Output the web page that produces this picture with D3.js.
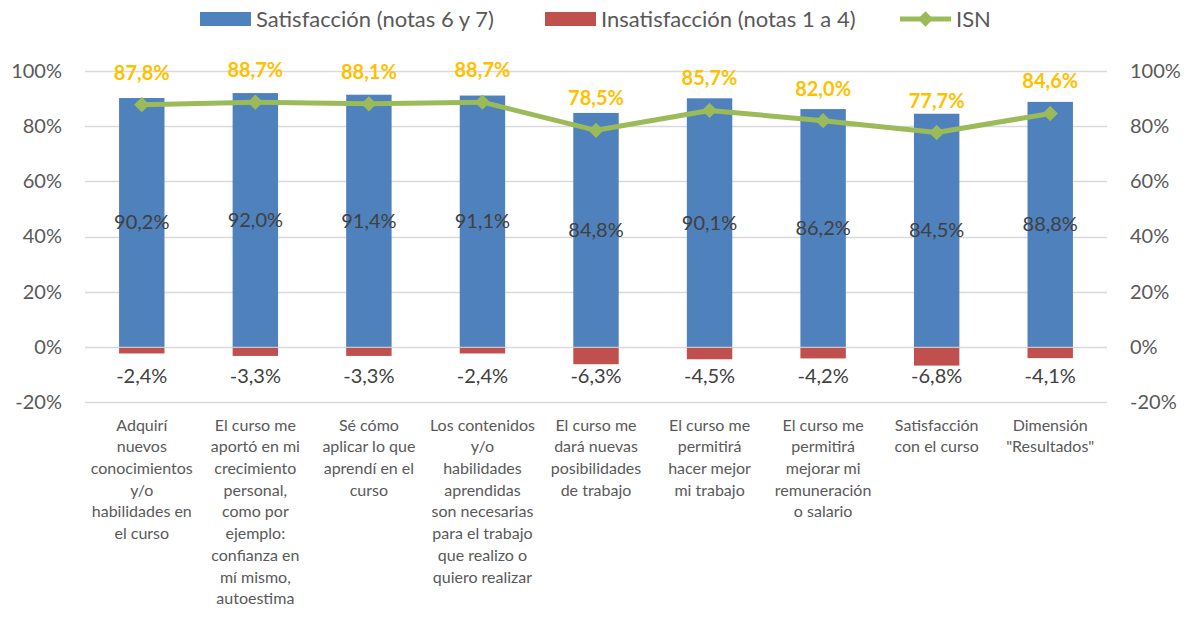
<!DOCTYPE html>
<html>
<head>
<meta charset="utf-8">
<script src="https://cdnjs.cloudflare.com/ajax/libs/d3/7.8.5/d3.min.js"></script>
<style>
	body{margin:0;background:#fff;}
	svg{font-family:Lato, "Open Sans", sans-serif;}
	.tick-label{fill:#595959;font-size:20px;}
	.cat-label{fill:#595959;font-size:16px;}
	.val-label{fill:#404040;font-size:20px;}
	.isn-label{fill:#FFC000;font-size:20px;font-weight:bold;}
	.legend-text{fill:#595959;font-size:22px;}
</style>
</head>
<body>
<svg id="chart" width="1193" height="618"></svg>
<script>
var categories = [
	'Adquirí\nnuevos\nconocimientos\ny/o\nhabilidades en\nel curso',
	'El curso me\naportó en mi\ncrecimiento\npersonal,\ncomo por\nejemplo:\nconfianza en\nmí mismo,\nautoestima',
	'Sé cómo\naplicar lo que\naprendí en el\ncurso',
	'Los contenidos\ny/o\nhabilidades\naprendidas\nson necesarias\npara el trabajo\nque realizo o\nquiero realizar',
	'El curso me\ndará nuevas\nposibilidades\nde trabajo',
	'El curso me\npermitirá\nhacer mejor\nmi trabajo',
	'El curso me\npermitirá\nmejorar mi\nremuneración\no salario',
	'Satisfacción\ncon el curso',
	'Dimensión\n"Resultados"'
];
var satisfaccion = [90.2, 92.0, 91.4, 91.1, 84.8, 90.1, 86.2, 84.5, 88.8];
var insatisfaccion = [-2.4, -3.3, -3.3, -2.4, -6.3, -4.5, -4.2, -6.8, -4.1];
var isn = [87.8, 88.7, 88.1, 88.7, 78.5, 85.7, 82.0, 77.7, 84.6];
var yTicks = [-20, 0, 20, 40, 60, 80, 100];

var margin = {left : 85, right : 86, top : 71, bottom : 216};

var svg = d3.select('#chart'),
	svgWidth = 1193,
	svgHeight = 618,
	width = svgWidth - margin.left - margin.right,
	height = svgHeight - margin.top - margin.bottom;

var fmt = function(v){ return v.toFixed(1).replace('.', ',') + '%'; };

var x = d3.scaleBand()
	.domain(d3.range(categories.length))
	.range([0, width])
	.paddingInner(0.6)
	.paddingOuter(0.3);

var y = d3.scaleLinear()
	.domain([-20, 100])
	.range([height, 0]);

var mainG = svg.append('g')
	.attr('transform', `translate(${margin.left},${margin.top})`);

//gridlines
mainG.append('g')
	.selectAll('line')
	.data(yTicks)
	.enter()
	.append('line')
	.attr('x1', 0)
	.attr('x2', width)
	.attr('y1', (d)=>Math.round(y(d)) + 0.5)
	.attr('y2', (d)=>Math.round(y(d)) + 0.5)
	.attr('stroke', '#D9D9D9')
	.attr('stroke-width', 1.5);

//axis labels
var yAxisL = d3.axisLeft(y).tickValues(yTicks).tickFormat((d)=>d + '%').tickSize(0).tickPadding(23);
var yAxisR = d3.axisRight(y).tickValues(yTicks).tickFormat((d)=>d + '%').tickSize(0).tickPadding(23);

var gl = mainG.append('g').call(yAxisL);
var gr = mainG.append('g').attr('transform', `translate(${width},0)`).call(yAxisR);
[gl, gr].forEach(function(g){
	g.select('.domain').remove();
	g.attr('font-family', null).attr('font-size', null);
	g.selectAll('text').attr('class', 'tick-label').attr('fill', null);
});

//bars
mainG.append('g')
	.selectAll('rect')
	.data(satisfaccion)
	.enter()
	.append('rect')
	.attr('x', (d,i)=>x(i))
	.attr('y', (d)=>y(d))
	.attr('width', x.bandwidth())
	.attr('height', (d)=>y(0) - y(d))
	.attr('fill', '#4F81BD');

mainG.append('g')
	.selectAll('rect')
	.data(insatisfaccion)
	.enter()
	.append('rect')
	.attr('x', (d,i)=>x(i))
	.attr('y', y(0) + 1)
	.attr('width', x.bandwidth())
	.attr('height', (d)=>y(d) - y(0) - 1)
	.attr('fill', '#C0504D');

//bar values
mainG.append('g')
	.selectAll('text')
	.data(satisfaccion)
	.enter()
	.append('text')
	.attr('class', 'val-label')
	.attr('text-anchor', 'middle')
	.attr('x', (d,i)=>x(i) + x.bandwidth()/2)
	.attr('y', (d)=>y(d/2))
	.attr('dy', '0.35em')
	.text(fmt);

mainG.append('g')
	.selectAll('text')
	.data(insatisfaccion)
	.enter()
	.append('text')
	.attr('class', 'val-label')
	.attr('text-anchor', 'middle')
	.attr('x', (d,i)=>x(i) + x.bandwidth()/2)
	.attr('y', y(-10.5))
	.attr('dy', '0.35em')
	.text(fmt);

//ISN line
var line = d3.line()
	.x((d,i)=>x(i) + x.bandwidth()/2)
	.y((d)=>y(d));

mainG.append('path')
	.datum(isn)
	.attr('d', line)
	.attr('fill', 'none')
	.attr('stroke', '#9BBB59')
	.attr('stroke-width', 5)
	.attr('stroke-linejoin', 'round');

mainG.append('g')
	.selectAll('path')
	.data(isn)
	.enter()
	.append('path')
	.attr('d', d3.symbol(d3.symbolDiamond2, 150))
	.attr('transform', (d,i)=>`translate(${x(i) + x.bandwidth()/2},${y(d)})`)
	.attr('fill', '#9BBB59');

mainG.append('g')
	.selectAll('text')
	.data(isn)
	.enter()
	.append('text')
	.attr('class', 'isn-label')
	.attr('text-anchor', 'middle')
	.attr('x', (d,i)=>x(i) + x.bandwidth()/2)
	.attr('y', (d)=>y(d) - 32)
	.attr('dy', '0.35em')
	.text(fmt);

//category labels
var catG = mainG.append('g')
	.selectAll('text')
	.data(categories)
	.enter()
	.append('text')
	.attr('class', 'cat-label')
	.attr('text-anchor', 'middle')
	.attr('transform', (d,i)=>`translate(${x(i) + x.bandwidth()/2},${height + 23})`);

catG.selectAll('tspan')
	.data((d)=>d.split('\n'))
	.enter()
	.append('tspan')
	.attr('x', 0)
	.attr('y', (d,i)=>i * 21.7)
	.attr('dy', '0.35em')
	.text((d)=>d);

//legend
var legend = svg.append('g').attr('class', 'legend');
var legendItems = [
	{label : 'Satisfacción (notas 6 y 7)', type : 'bar', color : '#4F81BD', x : 200},
	{label : 'Insatisfacción (notas 1 a 4)', type : 'bar', color : '#C0504D', x : 545},
	{label : 'ISN', type : 'line', color : '#9BBB59', x : 900}
];
legendItems.forEach(function(it){
	if(it.type === 'bar'){
		legend.append('rect')
			.attr('x', it.x).attr('y', 12)
			.attr('width', 51).attr('height', 14)
			.attr('fill', it.color);
	}else{
		legend.append('line')
			.attr('x1', it.x).attr('x2', it.x + 51)
			.attr('y1', 19).attr('y2', 19)
			.attr('stroke', it.color).attr('stroke-width', 5);
		legend.append('path')
			.attr('d', d3.symbol(d3.symbolDiamond2, 150))
			.attr('transform', `translate(${it.x + 25.5},19)`)
			.attr('fill', it.color);
	}
	legend.append('text')
		.attr('class', 'legend-text')
		.attr('x', it.x + 56)
		.attr('y', 19)
		.attr('dy', '0.35em')
		.text(it.label);
});
</script>
</body>
</html>
